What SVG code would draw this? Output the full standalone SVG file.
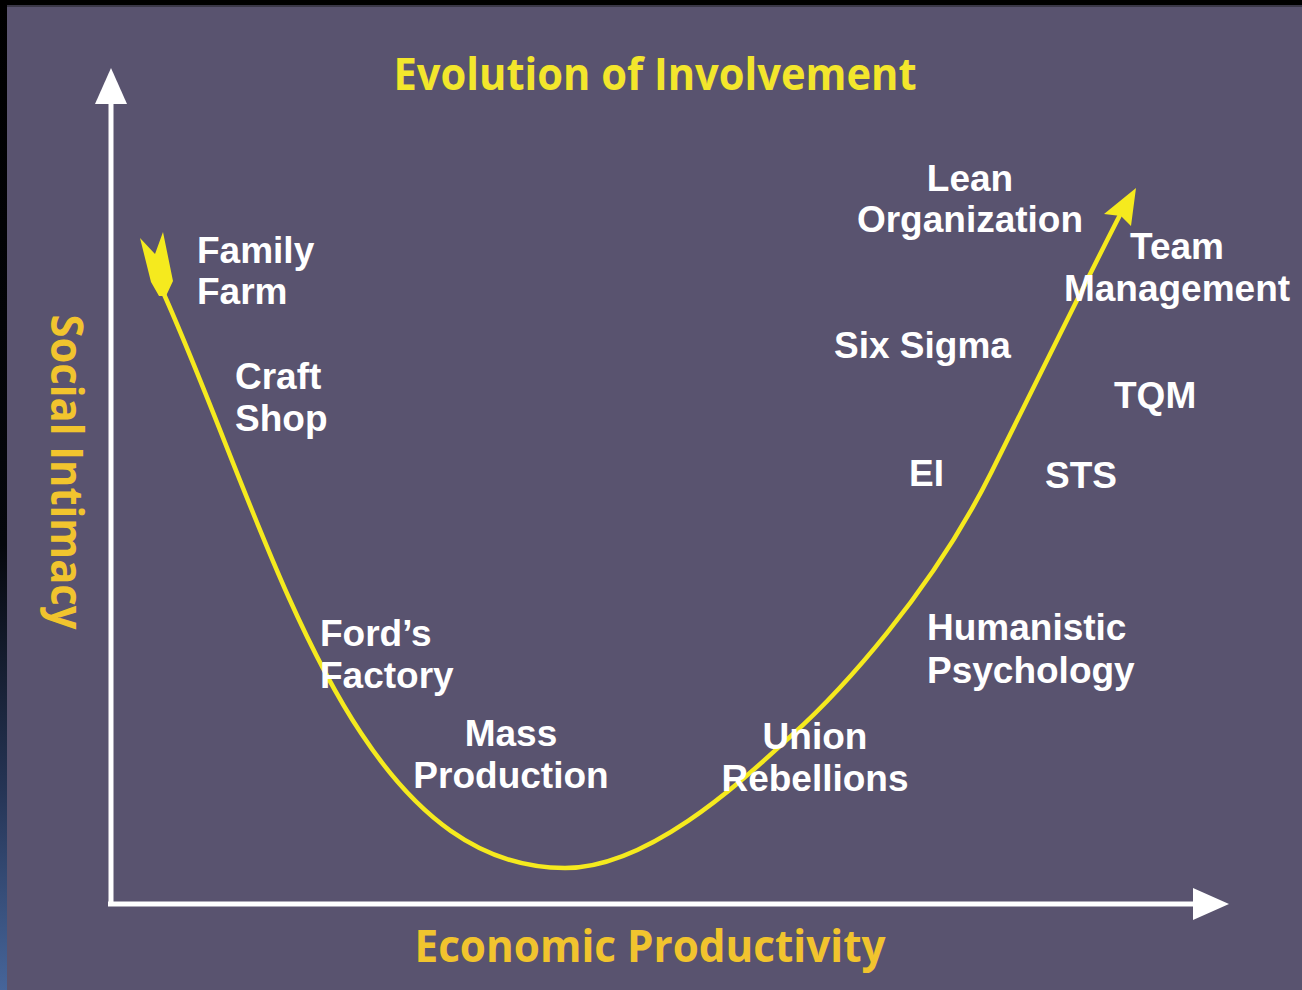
<svg xmlns="http://www.w3.org/2000/svg" width="1302" height="990" viewBox="0 0 1302 990">
<defs>
<linearGradient id="edge" x1="0" y1="0" x2="0" y2="1">
<stop offset="0" stop-color="#000000"/>
<stop offset="0.55" stop-color="#05070c"/>
<stop offset="0.8" stop-color="#263556"/>
<stop offset="1" stop-color="#46659a"/>
</linearGradient>
<style>
.lbl{font-family:"Liberation Sans",Arial,sans-serif;font-weight:700;font-size:37px;fill:#ffffff}
.axis{fill:none;stroke:#ffffff;stroke-width:5}
.curve{fill:none;stroke:#f5ea1e;stroke-width:4.5}
.title{font-family:"Open Sans","Noto Sans",sans-serif;font-weight:700;font-size:44px;fill:#f3e62c}
.axlbl{font-family:"Open Sans","Noto Sans",sans-serif;font-weight:700;font-size:44px;fill:#f1c42e}
</style>
</defs>
<rect x="0" y="0" width="1302" height="990" fill="#59536f"/>
<rect x="0" y="0" width="1302" height="5" fill="#000000"/>
<rect x="0" y="5" width="1302" height="2" fill="#3a3747"/>
<rect x="0" y="0" width="7" height="990" fill="url(#edge)"/>

<g id="title"><text class="title" x="655" y="90" text-anchor="middle" textLength="523" lengthAdjust="spacingAndGlyphs">Evolution of Involvement</text></g>
<g id="x-label"><text class="axlbl" x="650" y="962" text-anchor="middle" textLength="471" lengthAdjust="spacingAndGlyphs">Economic Productivity</text></g>
<g id="y-label"><text class="axlbl" transform="translate(51,472) rotate(90)" text-anchor="middle" textLength="315" lengthAdjust="spacingAndGlyphs">Social Intimacy</text></g>

<g id="connectors">
<path class="axis" d="M111,904 L111,100"/>
<polygon points="111,68 127,104 95,104" fill="#ffffff"/>
<path class="axis" d="M108,904 L1196,904"/>
<polygon points="1229,904 1193,888 1193,920" fill="#ffffff"/>
<path class="curve" d="M163,292 C270,530 350,868 565,868 C650,868 745,778 791,736 C841,691 931,593 991,473 C1011,433 1090,273 1120,215"/>
<polygon points="140,238 155,254 163,232 173,281 166,296 159,296 151,282" fill="#f5ea1e"/>
<polygon points="1136,188 1131,226 1121,216 1104,214" fill="#f5ea1e"/>
</g>

<g id="family-farm"><text class="lbl" x="197" y="263">Family</text><text class="lbl" x="197" y="304">Farm</text></g>
<g id="craft-shop"><text class="lbl" x="235" y="389">Craft</text><text class="lbl" x="235" y="431">Shop</text></g>
<g id="fords-factory"><text class="lbl" x="320" y="646">Ford’s</text><text class="lbl" x="320" y="688">Factory</text></g>
<g id="mass-production"><text class="lbl" x="511" y="746" text-anchor="middle">Mass</text><text class="lbl" x="511" y="788" text-anchor="middle">Production</text></g>
<g id="union-rebellions"><text class="lbl" x="815" y="749" text-anchor="middle">Union</text><text class="lbl" x="815" y="791" text-anchor="middle">Rebellions</text></g>
<g id="humanistic-psychology"><text class="lbl" x="927" y="640">Humanistic</text><text class="lbl" x="927" y="683">Psychology</text></g>
<g id="ei"><text class="lbl" x="909" y="486">EI</text></g>
<g id="sts"><text class="lbl" x="1045" y="488">STS</text></g>
<g id="tqm"><text class="lbl" x="1114" y="408">TQM</text></g>
<g id="six-sigma"><text class="lbl" x="834" y="358">Six Sigma</text></g>
<g id="lean-organization"><text class="lbl" x="970" y="191" text-anchor="middle">Lean</text><text class="lbl" x="970" y="232" text-anchor="middle">Organization</text></g>
<g id="team-management"><text class="lbl" x="1177" y="259" text-anchor="middle">Team</text><text class="lbl" x="1177" y="301" text-anchor="middle">Management</text></g>
</svg>
